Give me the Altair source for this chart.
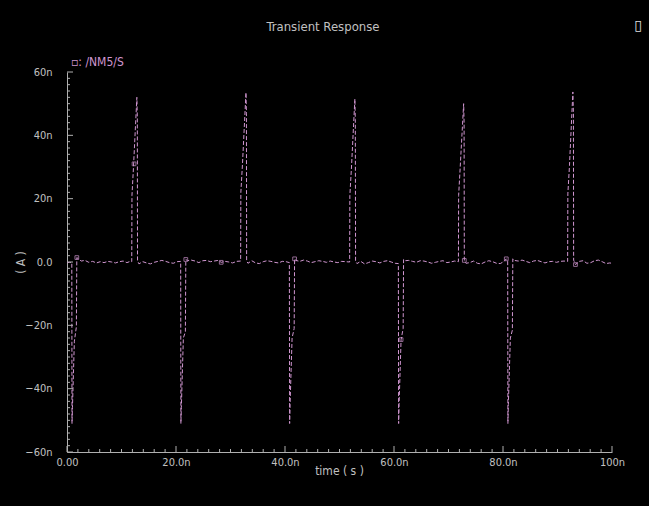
import altair as alt
import pandas as pd

# ---- data (time in ns, current in nA) ----
time_ns = [
    0.0, 0.5, 0.88, 0.92, 1.0, 1.35, 1.72, 1.8, 2.1, 2.6,
    3.3, 4.0, 4.7, 5.4, 6.1, 6.8, 7.5, 8.2, 8.9, 9.6, 10.3, 11.0, 11.6, 11.88,
    11.92, 12.2, 12.82, 12.9, 12.94, 13.2,
    13.9, 14.6, 15.3, 16.0, 16.7, 17.4, 18.1, 18.8, 19.5, 20.2, 20.86,
    20.9, 20.98, 21.35, 21.72, 21.8, 22.1,
    22.8, 23.5, 24.2, 24.9, 25.6, 26.3, 27.0, 27.7, 28.3, 29.0, 29.7, 30.4, 31.1, 31.86,
    31.9, 32.2, 32.84, 32.92, 32.96, 33.2,
    33.9, 34.6, 35.3, 36.0, 36.7, 37.4, 38.1, 38.8, 39.5, 40.2, 40.8,
    40.85, 40.93, 41.3, 41.68, 41.76, 42.0,
    42.7, 43.4, 44.1, 44.8, 45.5, 46.2, 46.9, 47.6, 48.3, 49.0, 49.7, 50.4, 51.1, 51.86,
    51.9, 52.2, 52.82, 52.9, 52.95, 53.2,
    53.9, 54.6, 55.3, 56.0, 56.7, 57.4, 58.1, 58.8, 59.5, 60.2, 60.8,
    60.85, 60.93, 61.3, 61.68, 61.76, 62.0,
    62.7, 63.4, 64.1, 64.8, 65.5, 66.2, 66.9, 67.6, 68.3, 69.0, 69.7, 70.4, 71.1, 71.82,
    71.86, 72.15, 72.78, 72.86, 72.9, 73.2,
    73.9, 74.6, 75.3, 76.0, 76.7, 77.4, 78.1, 78.8, 79.5, 80.2, 80.6, 80.86,
    80.9, 80.98, 81.35, 81.72, 81.8, 82.1,
    82.8, 83.5, 84.2, 84.9, 85.6, 86.3, 87.0, 87.7, 88.4, 89.1, 89.8, 90.5, 91.2, 91.86,
    91.9, 92.2, 92.82, 92.92, 92.96, 93.3,
    94.0, 94.7, 95.4, 96.1, 96.8, 97.5, 98.2, 98.9, 99.6, 100.0,
]
current_na = [
    -0.2, -0.1, -0.2, -51.0, -46.0, -25.0, -20.5, 1.4, 1.0, 0.3,
    0.5, -0.1, 0.2, -0.3, 0.1, -0.2, 0.2, 0.0, -0.3, 0.1, 0.3, -0.2, 0.2, 0.1,
    21.0, 30.0, 52.0, 46.0, 0.4, -0.6,
    0.1, -0.3, -0.6, -0.1, 0.2, 0.5, 0.2, -0.2, -0.4, 0.1, 0.2,
    -51.0, -46.0, -24.0, -22.0, 0.8, 0.4,
    0.6, 0.3, -0.2, 0.4, 0.5, 0.1, 0.3, 0.5, -0.1, 0.2, 0.0, -0.3, 0.2, 0.3,
    22.0, 31.0, 53.5, 47.0, 0.3, -0.4,
    0.4, -0.3, -0.5, 0.1, 0.4, 0.2, -0.1, -0.3, 0.2, 0.1, -0.2,
    -51.0, -45.0, -24.0, -21.0, 1.0, 0.5,
    0.2, 0.6, 0.3, -0.2, 0.1, 0.4, 0.2, -0.1, 0.3, 0.0, -0.2, 0.2, 0.1, 0.0,
    21.0, 30.0, 51.5, 45.0, 0.3, -0.5,
    0.2, -0.6, -0.2, 0.3, 0.1, -0.3, 0.2, 0.4, 0.0, -0.4, -0.5,
    -51.0, -45.0, -24.5, -21.0, 0.8, 0.4,
    0.5, 0.2, -0.1, 0.4, 0.3, 0.0, -0.4, -0.1, 0.2, 0.4, -0.2, 0.0, 0.3, 0.1,
    21.0, 30.0, 50.0, 44.0, 0.5, -0.4,
    -0.2, 0.3, -0.4, -0.6, 0.0, 0.4, 0.1, -0.4, -0.5, 0.2, 1.0, 0.3,
    -51.0, -45.0, -24.0, -21.5, 1.0, 0.5,
    0.3, 0.6, 0.2, -0.2, 0.3, 0.5, 0.1, -0.3, 0.1, 0.2, -0.1, 0.2, 0.3, 0.2,
    21.5, 30.5, 53.7, 47.0, 0.6, -0.8,
    0.2, 0.4, -0.4, -0.2, 0.4, 0.6, 0.1, -0.5, -0.3, -0.4,
]

# symbol markers along the trace
marker_t = [1.8, 12.3, 21.8, 28.3, 41.76, 61.3, 72.9, 80.6, 93.3]
marker_i = [1.4, 31.0, 0.8, -0.1, 1.0, -24.5, 0.5, 1.0, -0.8]

# axis ticks / labels
x_major = [0, 20, 40, 60, 80, 100]
x_minor = [t for t in range(0, 101, 2) if t % 20 != 0]
y_major = [-60, -40, -20, 0, 20, 40, 60]
y_minor = [v for v in range(-60, 61, 2) if v % 20 != 0]

W, H = 545, 380
FONT = "Liberation Sans Narrow, DejaVu Sans Condensed, Roboto, sans-serif"
PINK = "#d096d0"
AXC = "#b0b0b0"
TXT = "#c0c0c0"

trace = pd.DataFrame({"t": time_ns, "i": current_na})
marks = pd.DataFrame({"t": marker_t, "i": marker_i})

xlab_expr = "datum.value == 0 ? '0.00' : datum.value == 100 ? '100n' : format(datum.value, '.1f') + 'n'"
ylab_expr = "datum.value == 0 ? '0.0' : (datum.value < 0 ? '\u2212' : '') + format(abs(datum.value), 'd') + 'n'"

xscale = alt.Scale(domain=[0, 100], nice=False, zero=False)
yscale = alt.Scale(domain=[-60, 60], nice=False, zero=False)

xaxis = alt.Axis(
    values=x_major, labelExpr=xlab_expr, ticks=False, grid=False,
    domainColor=AXC, domainWidth=1, labelColor=TXT, labelFont=FONT, labelFontSize=11,
    labelPadding=4, labelFlush=False, labelOverlap=False,
    title="time ( s )", titleColor=TXT, titleFont=FONT, titleFontSize=12,
    titleFontWeight="normal", titleX=272, titleY=18, titleBaseline="middle",
)
yaxis = alt.Axis(
    values=y_major, labelExpr=ylab_expr, ticks=False, grid=False,
    domainColor=AXC, domainWidth=1, labelColor=TXT, labelFont=FONT, labelFontSize=11,
    labelPadding=15, labelFlush=False, labelOverlap=False,
    title="( A )", titleColor=TXT, titleFont=FONT, titleFontSize=12,
    titleFontWeight="normal", titleAngle=270, titleX=-47, titleY=190,
    titleAlign="center", titleBaseline="middle",
)

X = alt.X("t:Q", scale=xscale, axis=xaxis)
Y = alt.Y("i:Q", scale=yscale, axis=yaxis)

line = alt.Chart(trace).mark_line(
    color=PINK, strokeWidth=1, strokeDash=[4, 2], interpolate="linear"
).encode(x=X, y=Y, order="t:Q")

pts = alt.Chart(marks).mark_point(
    shape="square", size=14, filled=False, color=PINK, strokeWidth=1
).encode(x=X, y=Y)

xmaj = alt.Chart(pd.DataFrame({"t": x_major})).mark_rule(color=AXC).encode(
    x=X, y=alt.value(H), y2=alt.value(H - 6))
xmin = alt.Chart(pd.DataFrame({"t": x_minor})).mark_rule(color=AXC).encode(
    x=X, y=alt.value(H), y2=alt.value(H - 3))
ymaj = alt.Chart(pd.DataFrame({"i": y_major})).mark_rule(color=AXC).encode(
    y=Y, x=alt.value(0), x2=alt.value(6))
ymin = alt.Chart(pd.DataFrame({"i": y_minor})).mark_rule(color=AXC).encode(
    y=Y, x=alt.value(0), x2=alt.value(3))

title = alt.Chart(pd.DataFrame({"s": ["Transient Response"]})).mark_text(
    align="center", baseline="middle", font=FONT, fontSize=13, color=TXT
).encode(x=alt.value(256), y=alt.value(-45), text="s:N")

legend = alt.Chart(pd.DataFrame({"s": ["\u25ab: /NM5/S"]})).mark_text(
    align="left", baseline="middle", font=FONT, fontSize=12, color=PINK
).encode(x=alt.value(4), y=alt.value(-10), text="s:N")

icon = alt.Chart(pd.DataFrame({"s": ["\u25af"]})).mark_text(
    align="center", baseline="middle", font="DejaVu Sans", fontSize=14, color="#e0e0e0"
).encode(x=alt.value(571), y=alt.value(-46), text="s:N")

chart = alt.layer(line, pts, xmin, xmaj, ymin, ymaj, title, legend, icon).properties(
    width=W, height=H,
    background="black",
    padding={"left": 67, "top": 72, "right": 37, "bottom": 54},
    autosize="none",
).configure_view(stroke=None)

chart.save("out.html", embed_options={"renderer": "svg", "actions": False})
